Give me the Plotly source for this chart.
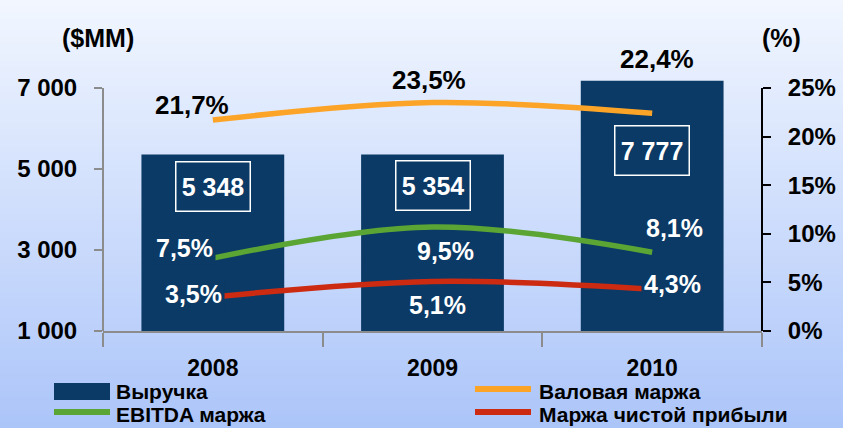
import plotly.graph_objects as go

# ---------------- data ----------------
years = ["2008", "2009", "2010"]
series_names = ["Выручка", "Валовая маржа", "EBITDA маржа", "Маржа чистой прибыли"]
revenue_bar = [5355, 5360, 7180]          # bar heights as drawn ($MM)
revenue_labels = ["5 348", "5 354", "7 777"]
gross_margin = [21.7, 23.5, 22.4]         # %
gross_labels = ["21,7%", "23,5%", "22,4%"]
ebitda_margin = [7.5, 10.7, 8.1]          # % as drawn
ebitda_labels = ["7,5%", "9,5%", "8,1%"]
net_margin = [3.5, 5.1, 4.3]              # %
net_labels = ["3,5%", "5,1%", "4,3%"]
left_ticks = [1000, 3000, 5000, 7000]
left_ticktext = ["1 000", "3 000", "5 000", "7 000"]
right_ticks = [0, 5, 10, 15, 20, 25]
right_ticktext = ["0%", "5%", "10%", "15%", "20%", "25%"]

# ---------------- style ----------------
W, H = 843, 428
L, R, T, B = 103, 762, 60, 331
Y7000_PX = 88
BAR = "#0a3a65"
ORANGE = "#fca428"
GREEN = "#5ba534"
RED = "#cc2b12"
FONT = "Liberation Sans, Arial, sans-serif"


def px(x):
    return (x - L) / (R - L)


def py(y):
    return (B - y) / (B - T)


left_top = 7000 + (Y7000_PX - T) / (B - Y7000_PX) * 6000
right_top = 25 + (Y7000_PX - T) / (B - Y7000_PX) * 25

fig = go.Figure()
fig.add_trace(go.Bar(x=years, y=revenue_bar, name=series_names[0], marker_color=BAR,
                     marker_line_width=0, showlegend=False))
for vals, col, nm in [(gross_margin, ORANGE, series_names[1]),
                      (ebitda_margin, GREEN, series_names[2]),
                      (net_margin, RED, series_names[3])]:
    fig.add_trace(go.Scatter(x=years, y=vals, yaxis="y2", mode="lines", name=nm,
                             line=dict(color=col, width=5.5, shape="spline", smoothing=1),
                             showlegend=False))

shapes = []
# gradient background
N = 70
top_c = (241, 246, 255)
bot_c = (172, 197, 249)
for i in range(N):
    f = i / (N - 1)
    c = tuple(int(round(top_c[k] + (bot_c[k] - top_c[k]) * f)) for k in range(3))
    shapes.append(dict(type="rect", xref="paper", yref="paper",
                       x0=px(-5), x1=px(W + 5),
                       y0=py(i * H / N), y1=py((i + 1) * H / N + 1),
                       fillcolor="rgb(%d,%d,%d)" % c, line_width=0, layer="below"))
# axis lines spanning only tick range
shapes.append(dict(type="line", xref="paper", yref="y", x0=0, x1=0, y0=1000, y1=7000,
                   line=dict(color="#8c8c8c", width=2)))
shapes.append(dict(type="line", xref="paper", yref="y2", x0=1, x1=1, y0=0, y1=25,
                   line=dict(color="#000000", width=2)))
# legend swatches
shapes.append(dict(type="rect", xref="paper", yref="paper", x0=px(54), x1=px(110),
                   y0=py(400), y1=py(383), fillcolor=BAR, line_width=0))
for (x0, x1, yy, col) in [(475, 531, 389, ORANGE), (54, 110, 412, GREEN), (475, 531, 412, RED)]:
    shapes.append(dict(type="line", xref="paper", yref="paper", x0=px(x0), x1=px(x1),
                       y0=py(yy), y1=py(yy), line=dict(color=col, width=6)))

ann = []
bold = dict(family=FONT, weight="bold")
ann.append(dict(text="($MM)", xref="paper", yref="paper", x=px(60), y=py(22),
                showarrow=False, font=dict(**bold, size=25, color="black")))
ann.append(dict(text="(%)", xref="paper", yref="paper", x=px(803), y=py(22),
                showarrow=False, font=dict(**bold, size=25, color="black")))
# legend texts
for (xx, yy, nm) in [(115, 391, series_names[0]), (538, 391, series_names[1]),
                     (115, 414, series_names[2]), (538, 414, series_names[3])]:
    ann.append(dict(text=nm, xref="paper", yref="paper", x=px(xx), y=py(yy),
                    xanchor="left", yanchor="middle", showarrow=False, borderpad=0,
                    font=dict(**bold, size=21, color="black")))
# revenue boxed labels
rev_shift = [-32, -31, -70]
for i, (v, t, s) in enumerate(zip(revenue_bar, revenue_labels, rev_shift)):
    ann.append(dict(text=t, x=i, y=v, xref="x", yref="y", yshift=s, showarrow=False,
                    font=dict(**bold, size=25, color="white"),
                    bordercolor="white", borderwidth=1.5, borderpad=2, width=69, height=44))
# gross labels
g_shift = [(-21, 15), (-4, 23), (5, 54)]
for i, (v, t, (sx, sy)) in enumerate(zip(gross_margin, gross_labels, g_shift)):
    ann.append(dict(text=t, x=i, y=v, xref="x", yref="y2", xshift=sx, yshift=sy,
                    showarrow=False, font=dict(**bold, size=26, color="black")))
# ebitda labels
e_shift = [(-28, 10), (13, -24), (22, 24)]
for i, (v, t, (sx, sy)) in enumerate(zip(ebitda_margin, ebitda_labels, e_shift)):
    ann.append(dict(text=t, x=i, y=v, xref="x", yref="y2", xshift=sx, yshift=sy,
                    showarrow=False, bgcolor=BAR, borderpad=2,
                    font=dict(**bold, size=25, color="white")))
# net labels
n_shift = [(-19, 3), (5, -24), (20, 5)]
for i, (v, t, (sx, sy)) in enumerate(zip(net_margin, net_labels, n_shift)):
    ann.append(dict(text=t, x=i, y=v, xref="x", yref="y2", xshift=sx, yshift=sy,
                    showarrow=False, bgcolor=BAR, borderpad=2,
                    font=dict(**bold, size=25, color="white")))

fig.update_layout(
    width=W, height=H,
    margin=dict(l=L, r=W - R, t=T, b=H - B, pad=0, autoexpand=False),
    paper_bgcolor="rgb(200,215,250)", plot_bgcolor="rgba(0,0,0,0)",
    bargap=0.35, showlegend=False,
    shapes=shapes, annotations=ann,
    font=dict(family=FONT, color="black"),
    xaxis=dict(type="category", range=[-0.5, 2.5], autorange=False, automargin=False,
               showline=True, linecolor="#8c8c8c", linewidth=2,
               ticks="outside", tickson="boundaries", ticklen=14, tickcolor="#8c8c8c",
               tickwidth=1.5, showgrid=False, zeroline=False, ticklabelstandoff=15,
               tickangle=0, tickfont=dict(**bold, size=23, color="black")),
    yaxis=dict(range=[1000, left_top], autorange=False, automargin=False,
               tickvals=left_ticks, ticktext=left_ticktext,
               showline=False, showgrid=False, zeroline=False, ticks="outside",
               ticklen=8, tickcolor="#8c8c8c", tickwidth=2, ticklabelstandoff=12,
               tickfont=dict(**bold, size=24, color="black")),
    yaxis2=dict(range=[0, right_top], autorange=False, automargin=False,
                tickvals=right_ticks, ticktext=right_ticktext,
                overlaying="y", side="right", showline=False, showgrid=False,
                zeroline=False, ticks="outside", ticklen=8, tickcolor="black",
                tickwidth=2, ticklabelstandoff=12,
                tickfont=dict(**bold, size=24, color="black")),
)

fig.write_html("out.html", config={"displayModeBar": False},
               post_script="document.body.style.margin='0';document.body.style.overflow='hidden';")
